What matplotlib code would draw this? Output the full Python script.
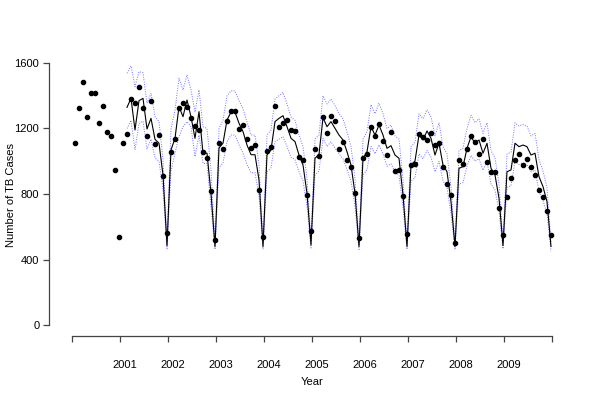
import numpy as np
import matplotlib.pyplot as plt

plt.rcParams['font.family'] = ['Liberation Sans', 'DejaVu Sans']

# observed monthly TB cases, Jan 2000 .. Dec 2009
observed = [
    1110, 1327, 1482, 1268, 1419, 1419, 1232, 1339, 1177, 1152, 948, 539,   # 2000
    1110, 1168, 1382, 1358, 1452, 1327, 1156, 1366, 1105, 1160, 910, 562,   # 2001
    1058, 1138, 1327, 1358, 1333, 1262, 1215, 1191, 1057, 1022, 816, 521,   # 2002
    1110, 1075, 1248, 1309, 1309, 1195, 1220, 1134, 1081, 1099, 824, 539,   # 2003
    1063, 1087, 1337, 1211, 1236, 1254, 1189, 1185, 1028, 1006, 794, 572,   # 2004
    1073, 1034, 1268, 1175, 1274, 1246, 1073, 1116, 1008, 967, 806, 531,    # 2005
    1018, 1044, 1207, 1156, 1226, 1124, 1036, 1177, 940, 945, 790, 554,     # 2006
    977, 981, 1168, 1148, 1130, 1175, 1099, 1111, 963, 861, 792, 503,       # 2007
    1008, 981, 1075, 1156, 1116, 1044, 1138, 995, 932, 932, 714, 550,       # 2008
    784, 896, 1008, 1042, 977, 1014, 967, 914, 826, 784, 696, 548,          # 2009
]

# fitted values and bands start Feb 2001 (month index 13)
fit_start = 13
fitted = [
    1329, 1384, 1191, 1370, 1384, 1197, 1262, 1134, 1110, 916, 485,
    1069, 1140, 1333, 1272, 1374, 1272, 1140, 1303, 1049, 1049, 804, 480,
    1081, 1110, 1252, 1300, 1300, 1232, 1181, 1099, 1040, 1040, 886, 480,
    1038, 1069, 1242, 1262, 1278, 1211, 1140, 1120, 1038, 977, 804, 490,
    1018, 1042, 1266, 1211, 1242, 1201, 1160, 1130, 1058, 977, 804, 480,
    1018, 1058, 1211, 1160, 1221, 1160, 1079, 1095, 1038, 1018, 794, 480,
    977, 1002, 1160, 1130, 1185, 1140, 1038, 1110, 977, 936, 753, 480,
    957, 967, 1079, 1150, 1110, 1130, 1049, 1110, 957, 916, 774, 485,
    936, 947, 1110, 1089, 1099, 1089, 1038, 1049, 906, 845, 753, 480,
]
upper = [
    1537, 1582, 1455, 1547, 1541, 1354, 1415, 1272, 1242, 1008, 505,
    1200, 1313, 1507, 1435, 1527, 1435, 1300, 1435, 1211, 1200, 947, 500,
    1200, 1250, 1400, 1430, 1430, 1370, 1320, 1240, 1160, 1160, 980, 500,
    1160, 1190, 1380, 1400, 1420, 1350, 1270, 1250, 1160, 1090, 895, 510,
    1135, 1160, 1400, 1350, 1380, 1340, 1290, 1260, 1180, 1090, 895, 500,
    1135, 1180, 1345, 1290, 1355, 1290, 1200, 1220, 1155, 1135, 885, 500,
    1090, 1115, 1290, 1260, 1315, 1270, 1155, 1235, 1090, 1045, 840, 500,
    1065, 1080, 1200, 1280, 1235, 1260, 1170, 1235, 1065, 1020, 862, 505,
    1045, 1055, 1235, 1215, 1225, 1215, 1155, 1170, 1010, 940, 840, 500,
]
lower = [
    1200, 1250, 1070, 1230, 1245, 1075, 1135, 1020, 1000, 825, 465,
    940, 1050, 1150, 1211, 1242, 1211, 1028, 1160, 987, 987, 722, 462,
    960, 990, 1120, 1160, 1160, 1100, 1050, 980, 930, 930, 790, 462,
    935, 960, 1120, 1135, 1150, 1090, 1025, 1010, 935, 880, 725, 470,
    915, 940, 1140, 1090, 1120, 1080, 1045, 1015, 950, 880, 725, 462,
    915, 950, 1090, 1045, 1100, 1045, 970, 985, 935, 915, 715, 462,
    880, 900, 1045, 1015, 1065, 1025, 935, 1000, 880, 840, 680, 460,
    860, 870, 970, 1035, 1000, 1015, 945, 1000, 860, 825, 695, 465,
    840, 850, 1000, 980, 990, 980, 935, 945, 815, 760, 680, 450,
]

years = np.arange(2000, 2011)
year_labels = [str(y) for y in range(2001, 2010)]
yticks = [0, 400, 800, 1200, 1600]

t = 2000 + (np.arange(len(observed)) + 0.75) / 12.0
tf = t[fit_start:fit_start + len(fitted)]

fig = plt.figure(figsize=(6, 4), dpi=100)
ax = fig.add_axes([49 / 600, 1 - 335.5 / 400, 522 / 600, 283 / 400])

ax.plot(tf, upper, color='#7070ff', lw=0.7, ls=(0, (1, 1.5)))
ax.plot(tf, lower, color='#7070ff', lw=0.7, ls=(0, (1, 1.5)))
ax.plot(tf, fitted, color='black', lw=0.8)
ax.plot(t, observed, 'o', color='black', ms=3.0, mec='black')

ax.set_xlim(2000 - 23 / 48, 2010 + 19 / 48)
ax.set_ylim(-64, 1664)

for s in ['top', 'right']:
    ax.spines[s].set_visible(False)
ax.spines['left'].set_bounds(0, 1600)
ax.spines['bottom'].set_bounds(2000, 2010)
for s in ['left', 'bottom']:
    ax.spines[s].set_color('#444444')
    ax.spines[s].set_linewidth(0.9)

ax.set_xticks(years)
ax.set_xticklabels([])
ax.set_yticks(yticks)
ax.set_yticklabels([str(v) for v in yticks], fontsize=8)
ax.tick_params(direction='out', length=4, width=0.9, color='#444444', pad=3)

for y, lab in zip(range(2001, 2010), year_labels):
    ax.text(y + 0.1, -0.085, lab, transform=ax.get_xaxis_transform(),
            ha='center', va='top', fontsize=8)

fig.text(312 / 600, 1 - 382 / 400, 'Year', ha='center', va='center', fontsize=8)
fig.text(11 / 600, 1 - 195 / 400, 'Number of TB Cases', ha='center', va='center',
         rotation=90, fontsize=8)

fig.savefig('out.png', dpi=100)
